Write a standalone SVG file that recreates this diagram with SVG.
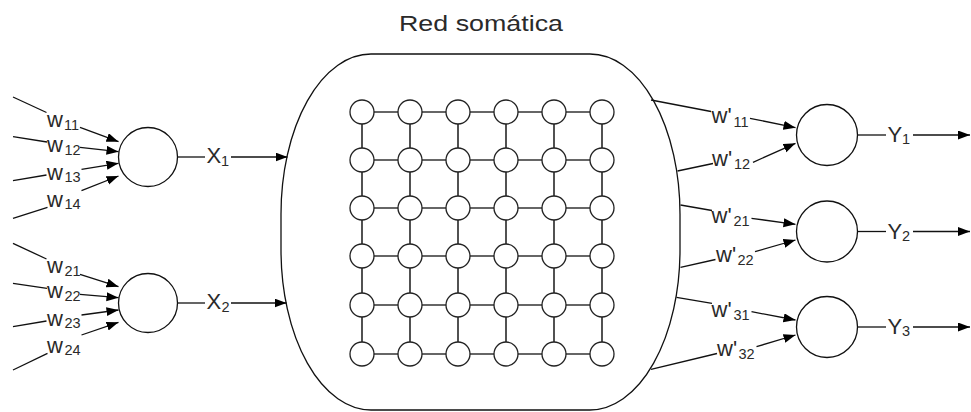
<svg xmlns="http://www.w3.org/2000/svg" width="971" height="412" viewBox="0 0 971 412">
  <defs>
    <marker id="arrow" markerUnits="userSpaceOnUse" markerWidth="12" markerHeight="10" refX="12" refY="4.5" orient="auto">
      <path d="M0,0 L12,4.5 L0,9 Z" fill="#000"/>
    </marker>
    <style>
      .ln { stroke: #111; stroke-width: 1.3; fill: none; }
      .arr { stroke: #111; stroke-width: 1.3; fill: none; marker-end: url(#arrow); }
      .neuron { fill: #fff; stroke: #111; stroke-width: 1.3; }
      .cell { fill: #fff; stroke: #222; stroke-width: 1.3; }
      .mesh { stroke: #333; stroke-width: 1.7; }
      .t { font-family: "Liberation Sans", Arial, sans-serif; fill: #2a2a2a; }
      .main { font-size: 22px; }
      .sub { font-size: 14.5px; }
      .title { font-size: 22px; }
    </style>
  </defs>

  <!-- title -->
  <text class="t title" x="399" y="31" textLength="164" lengthAdjust="spacingAndGlyphs">Red somática</text>

  <!-- somatic network body -->
  <g id="somatic-net">
    <rect x="281" y="54" width="399" height="356" rx="90" ry="160" fill="#fff" stroke="#111" stroke-width="1.3"/>
    <g class="mesh">
      <line x1="362" y1="112" x2="602" y2="112"/>
      <line x1="362" y1="160" x2="602" y2="160"/>
      <line x1="362" y1="208" x2="602" y2="208"/>
      <line x1="362" y1="256" x2="602" y2="256"/>
      <line x1="362" y1="305" x2="602" y2="305"/>
      <line x1="362" y1="354" x2="602" y2="354"/>
      <line x1="362" y1="112" x2="362" y2="354"/>
      <line x1="410" y1="112" x2="410" y2="354"/>
      <line x1="458" y1="112" x2="458" y2="354"/>
      <line x1="506" y1="112" x2="506" y2="354"/>
      <line x1="554" y1="112" x2="554" y2="354"/>
      <line x1="602" y1="112" x2="602" y2="354"/>
    </g>
    <g id="cells">
      <g>
        <circle class="cell" cx="362" cy="112" r="12"/><circle class="cell" cx="410" cy="112" r="12"/><circle class="cell" cx="458" cy="112" r="12"/>
        <circle class="cell" cx="506" cy="112" r="12"/><circle class="cell" cx="554" cy="112" r="12"/><circle class="cell" cx="602" cy="112" r="12"/>
      </g>
      <g>
        <circle class="cell" cx="362" cy="160" r="12"/><circle class="cell" cx="410" cy="160" r="12"/><circle class="cell" cx="458" cy="160" r="12"/>
        <circle class="cell" cx="506" cy="160" r="12"/><circle class="cell" cx="554" cy="160" r="12"/><circle class="cell" cx="602" cy="160" r="12"/>
      </g>
      <g>
        <circle class="cell" cx="362" cy="208" r="12"/><circle class="cell" cx="410" cy="208" r="12"/><circle class="cell" cx="458" cy="208" r="12"/>
        <circle class="cell" cx="506" cy="208" r="12"/><circle class="cell" cx="554" cy="208" r="12"/><circle class="cell" cx="602" cy="208" r="12"/>
      </g>
      <g>
        <circle class="cell" cx="362" cy="256" r="12"/><circle class="cell" cx="410" cy="256" r="12"/><circle class="cell" cx="458" cy="256" r="12"/>
        <circle class="cell" cx="506" cy="256" r="12"/><circle class="cell" cx="554" cy="256" r="12"/><circle class="cell" cx="602" cy="256" r="12"/>
      </g>
      <g>
        <circle class="cell" cx="362" cy="305" r="12"/><circle class="cell" cx="410" cy="305" r="12"/><circle class="cell" cx="458" cy="305" r="12"/>
        <circle class="cell" cx="506" cy="305" r="12"/><circle class="cell" cx="554" cy="305" r="12"/><circle class="cell" cx="602" cy="305" r="12"/>
      </g>
      <g>
        <circle class="cell" cx="362" cy="354" r="12"/><circle class="cell" cx="410" cy="354" r="12"/><circle class="cell" cx="458" cy="354" r="12"/>
        <circle class="cell" cx="506" cy="354" r="12"/><circle class="cell" cx="554" cy="354" r="12"/><circle class="cell" cx="602" cy="354" r="12"/>
      </g>
    </g>
  </g>

  <!-- input neurons -->
  <g id="input-1"><circle class="neuron" cx="148" cy="157" r="29.5"/></g>
  <g id="input-2"><circle class="neuron" cx="148" cy="303" r="29.5"/></g>

  <!-- output neurons -->
  <g id="output-1"><circle class="neuron" cx="827" cy="135" r="30.5"/></g>
  <g id="output-2"><circle class="neuron" cx="827" cy="231.5" r="30.5"/></g>
  <g id="output-3"><circle class="neuron" cx="827" cy="327" r="30.5"/></g>

  <!-- connectors -->
  <g id="connectors">
    <!-- weights into input neuron 1 -->
    <line class="ln" x1="13" y1="97" x2="46.5" y2="112.5"/>
    <line class="arr" x1="80" y1="127.3" x2="118.5" y2="141.7"/>
    <line class="ln" x1="13" y1="136.7" x2="47" y2="142"/>
    <line class="arr" x1="80" y1="147.3" x2="118.5" y2="151.7"/>
    <line class="ln" x1="13" y1="180.7" x2="46.5" y2="175"/>
    <line class="arr" x1="81.5" y1="169.3" x2="118.5" y2="163.3"/>
    <line class="ln" x1="13" y1="218.3" x2="47.5" y2="207.3"/>
    <line class="arr" x1="81.5" y1="190.7" x2="118.5" y2="176"/>
    <!-- weights into input neuron 2 -->
    <line class="ln" x1="13" y1="243.3" x2="46.5" y2="259"/>
    <line class="arr" x1="80" y1="274.3" x2="118.5" y2="286.7"/>
    <line class="ln" x1="13" y1="283.3" x2="47" y2="288.3"/>
    <line class="arr" x1="80" y1="294.3" x2="118.5" y2="297.7"/>
    <line class="ln" x1="13" y1="326.7" x2="46.5" y2="321"/>
    <line class="arr" x1="81.5" y1="315" x2="118.5" y2="310"/>
    <line class="ln" x1="13" y1="370" x2="47.5" y2="353.3"/>
    <line class="arr" x1="81.5" y1="335" x2="118.5" y2="322.3"/>
    <!-- input neurons to the somatic network -->
    <line class="ln" x1="177.5" y1="157" x2="205" y2="157"/>
    <line class="arr" x1="231" y1="157" x2="287.5" y2="157"/>
    <line class="ln" x1="177.5" y1="303" x2="205" y2="303"/>
    <line class="arr" x1="231" y1="303" x2="286.5" y2="303"/>
    <!-- somatic network to output neurons -->
    <line class="ln" x1="651" y1="100" x2="711" y2="111.5"/>
    <line class="arr" x1="750" y1="118.3" x2="795.5" y2="127.7"/>
    <line class="ln" x1="677.5" y1="171" x2="713" y2="163.5"/>
    <line class="arr" x1="753" y1="162.3" x2="795.5" y2="143.3"/>
    <line class="ln" x1="680.5" y1="205" x2="712" y2="210.5"/>
    <line class="arr" x1="751.5" y1="218.3" x2="795.5" y2="224.3"/>
    <line class="ln" x1="680.5" y1="267.3" x2="715.5" y2="259.5"/>
    <line class="arr" x1="755" y1="251.7" x2="795.5" y2="240"/>
    <line class="ln" x1="676.5" y1="297.3" x2="712" y2="303.3"/>
    <line class="arr" x1="751.5" y1="311.7" x2="795.5" y2="320"/>
    <line class="ln" x1="651" y1="369.3" x2="717" y2="353.5"/>
    <line class="arr" x1="756.5" y1="346.7" x2="795.5" y2="335"/>
    <!-- outputs -->
    <line class="ln" x1="857.5" y1="135" x2="886" y2="135"/>
    <line class="arr" x1="913" y1="135" x2="970" y2="135"/>
    <line class="ln" x1="857.5" y1="231.5" x2="886" y2="231.5"/>
    <line class="arr" x1="913" y1="231.5" x2="970" y2="231.5"/>
    <line class="ln" x1="857.5" y1="327" x2="886" y2="327"/>
    <line class="arr" x1="913" y1="327" x2="970" y2="327"/>
  </g>

  <!-- connector labels -->
  <g id="labels" class="t">
    <text class="main" x="47" y="127">w</text><text class="sub" x="64" y="130">11</text>
    <text class="main" x="47" y="152">w</text><text class="sub" x="64.5" y="154.5">12</text>
    <text class="main" x="47" y="179.5">w</text><text class="sub" x="64.5" y="182">13</text>
    <text class="main" x="47" y="206.5">w</text><text class="sub" x="64.5" y="209">14</text>

    <text class="main" x="47" y="273">w</text><text class="sub" x="64.5" y="276">21</text>
    <text class="main" x="47" y="298">w</text><text class="sub" x="64.5" y="300.5">22</text>
    <text class="main" x="47" y="325.5">w</text><text class="sub" x="64.5" y="328">23</text>
    <text class="main" x="47" y="352.5">w</text><text class="sub" x="64.5" y="355">24</text>

    <text class="main" x="206.5" y="162.5">X</text><text class="sub" x="221" y="165.5">1</text>
    <text class="main" x="206.5" y="309">X</text><text class="sub" x="221.5" y="312">2</text>

    <text class="main" x="711.5" y="123">w'</text><text class="sub" x="733.5" y="126.5">11</text>
    <text class="main" x="712" y="166">w'</text><text class="sub" x="734" y="169">12</text>
    <text class="main" x="711.5" y="223">w'</text><text class="sub" x="733.5" y="226">21</text>
    <text class="main" x="716" y="261.5">w'</text><text class="sub" x="737.5" y="264.5">22</text>
    <text class="main" x="711.5" y="317">w'</text><text class="sub" x="733.5" y="320">31</text>
    <text class="main" x="717" y="356">w'</text><text class="sub" x="738.5" y="359">32</text>

    <text class="main" x="887.5" y="142">Y</text><text class="sub" x="902" y="144">1</text>
    <text class="main" x="887.5" y="238.5">Y</text><text class="sub" x="902" y="240.5">2</text>
    <text class="main" x="887.5" y="334">Y</text><text class="sub" x="902" y="336">3</text>
  </g>
</svg>
